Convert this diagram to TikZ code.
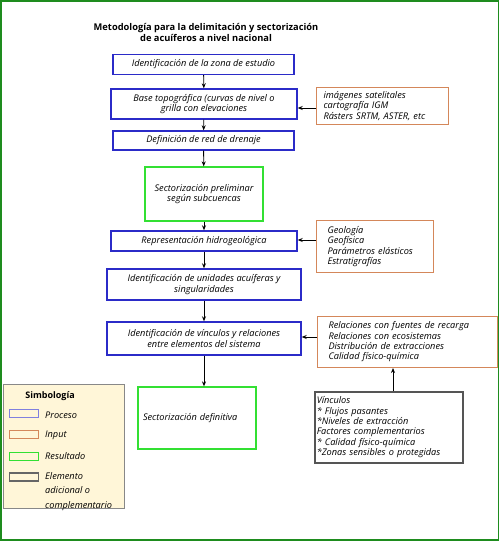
\documentclass[tikz,border=0pt]{standalone}
\usepackage{fontspec}
\setmainfont{Open Sans}
\usetikzlibrary{arrows.meta}
\definecolor{procblue}{HTML}{2B2BC8}
\definecolor{inorange}{HTML}{D4875A}
\definecolor{resgreen}{HTML}{33E033}
\definecolor{addgray}{HTML}{555555}
\definecolor{framegreen}{HTML}{1E8C1E}
\definecolor{legfill}{HTML}{FFF6D8}
\definecolor{leggray}{HTML}{888888}
\tikzset{
  base/.style={font=\fontsize{9.2}{10.3}\selectfont\itshape, inner sep=2pt},
  proc/.style={base, draw=procblue, line width=1.4pt, align=center},
  inp/.style={base, draw=inorange, line width=1pt, align=left, anchor=north west, inner xsep=0pt},
  res/.style={base, draw=resgreen, line width=1.3pt, align=center},
  add/.style={base, draw=addgray, line width=1.5pt, align=left, anchor=north west},
  arr/.style={-{Stealth[length=5pt,width=4pt]}, line width=0.8pt, black},
  sw/.style={minimum width=29pt, minimum height=8pt, inner sep=0pt},
  leglab/.style={font=\fontsize{9.2}{14.5}\selectfont\itshape, anchor=west, align=left, inner sep=0pt}
}
\begin{document}
\begin{tikzpicture}[x=1pt,y=1pt]
\useasboundingbox (0,0) rectangle (500,-542);
\draw[framegreen, line width=1.5pt] (1,-1) rectangle (498.5,-540);
\node[font=\fontsize{9.3}{11}\selectfont\bfseries, align=center] (title) at (206,-32)
  {Metodología para la delimitación y sectorización\\de acuíferos a nivel nacional};
% process chain
\node[proc, minimum width=181pt, minimum height=20pt] (n1) at (203.5,-64.5) {Identificación de la zona de estudio};
\node[proc, minimum width=186pt, minimum height=30pt] (n2) at (204,-104) {Base topográfica (curvas de nivel o\\grilla con elevaciones};
\node[proc, minimum width=181pt, minimum height=19pt] (n3) at (203.5,-140.5) {Definición de red de drenaje};
\node[res, minimum width=118pt, minimum height=54pt] (n4) at (204,-194) {Sectorización preliminar\\según subcuencas};
\node[proc, minimum width=186pt, minimum height=20pt] (n5) at (204,-241) {Representación hidrogeológica};
\node[proc, minimum width=194pt, minimum height=31pt] (n6) at (204,-284.5) {Identificación de unidades acuíferas y\\singularidades};
\node[proc, minimum width=194pt, minimum height=33pt] (n7) at (204,-338.5) {Identificación de vínculos y relaciones\\entre elementos del sistema};
\node[res, minimum width=118pt, minimum height=62pt, text width=108pt, inner xsep=5pt, align=left] (n8) at (197,-418) {Sectorización definitiva};
% inputs
\node[inp, minimum width=132pt, minimum height=37pt, text width=132pt, inner ysep=1.5pt] (ia) at (316,-87)
  {\hspace*{7pt}imágenes satelitales\\\hspace*{7pt}cartografía IGM\\\hspace*{7pt}Rásters SRTM, ASTER, etc};
\node[inp, minimum width=117pt, minimum height=52pt, text width=117pt, inner ysep=3pt] (ib) at (316,-220)
  {\hspace*{11pt}Geología\\\hspace*{11pt}Geofísica\\\hspace*{11pt}Parámetros elásticos\\\hspace*{11pt}Estratigrafías};
\node[inp, minimum width=180pt, minimum height=51pt, text width=180pt, inner ysep=3pt] (ic) at (317,-316)
  {\hspace*{11pt}Relaciones con fuentes de recarga\\\hspace*{11pt}Relaciones con ecosistemas\\\hspace*{11pt}Distribución de extracciones\\\hspace*{11pt}Calidad físico-química};
\node[add, minimum width=148pt, minimum height=71pt, text width=144pt, inner xsep=1pt, inner ysep=1pt] (id) at (314,-391)
  {Vínculos\\\relax* Flujos pasantes\\\relax*Niveles de extracción\\Factores complementarios\\\relax* Calidad físico-química\\\relax*Zonas sensibles o protegidas};
% arrows
\draw[arr] (n1) -- (n2);
\draw[arr] (n2) -- (n3);
\draw[arr] (n3) -- (n4);
\draw[arr] (n4) -- (n5);
\draw[arr] (n5) -- (n6);
\draw[arr] (n6) -- (n7);
\draw[arr] (n7.south) -- (n7.south |- n8.north);
\draw[arr] (ia.west |- 0,-108) -- (n2.east |- 0,-108);
\draw[arr] (ib.west |- 0,-240) -- (n5.east |- 0,-240);
\draw[arr] (ic.west |- 0,-337) -- (n7.east |- 0,-337);
\draw[arr] (id.north -| 393,0) -- (ic.south -| 393,0);
% legend
\node[draw=leggray, fill=legfill, line width=0.8pt, minimum width=121pt, minimum height=124pt, anchor=north west, inner sep=0pt] (leg) at (3,-384) {};
\node[font=\fontsize{9}{10}\selectfont\bfseries] (legt) at (50,-396) {Simbología};
\node[sw, draw=procblue!60, line width=0.8pt] (s1) at (24,-413) {};
\node[sw, draw=inorange, line width=0.8pt] (s2) at (24,-434.5) {};
\node[sw, draw=resgreen, line width=0.8pt] (s3) at (24,-456) {};
\node[sw, draw=addgray!90, line width=1.5pt] (s4) at (24,-477) {};
\node[leglab] (l1) at (45,-415) {Proceso};
\node[leglab] (l2) at (45,-435.5) {Input};
\node[leglab] (l3) at (45,-456) {Resultado};
\node[leglab, anchor=north west] (l4) at (45,-472) {Elemento\\adicional o\\complementario};
\end{tikzpicture}
\end{document}
